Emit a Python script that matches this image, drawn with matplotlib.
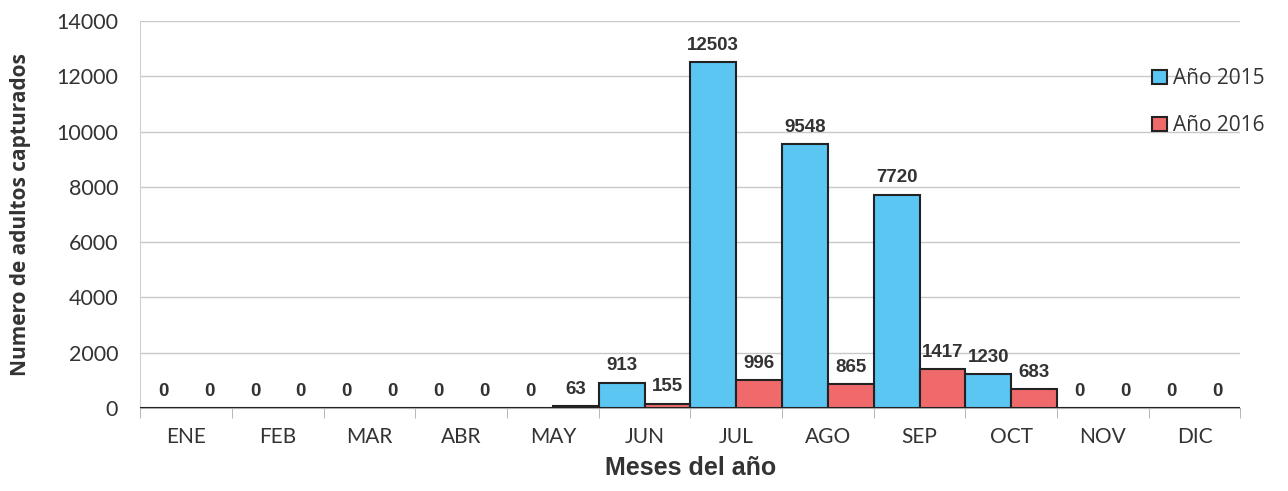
import numpy as np
import matplotlib.pyplot as plt

meses = ["ENE", "FEB", "MAR", "ABR", "MAY", "JUN", "JUL", "AGO", "SEP", "OCT", "NOV", "DIC"]
anio_2015 = [0, 0, 0, 0, 0, 913, 12503, 9548, 7720, 1230, 0, 0]
anio_2016 = [0, 0, 0, 0, 63, 155, 996, 865, 1417, 683, 0, 0]

azul = "#5bc6f2"
rojo = "#f06a6b"

fig = plt.figure(figsize=(12.88, 4.91), dpi=100)
ax = fig.add_axes([0.109, 0.169, 0.854, 0.788])

x = np.arange(len(meses))
w = 0.5
b1 = ax.bar(x - w / 2, anio_2015, w, color=azul, edgecolor="#222222", linewidth=1.5, label="Año 2015", zorder=3)
b2 = ax.bar(x + w / 2, anio_2016, w, color=rojo, edgecolor="#222222", linewidth=1.5, label="Año 2016", zorder=3)

# etiquetas de datos
lab_font = dict(fontsize=13.5, fontweight="bold", color="#333333",
                family=["Liberation Sans Narrow", "Liberation Sans", "DejaVu Sans"])
for bars in (b1, b2):
    for r in bars:
        h = r.get_height()
        ax.annotate(str(int(h)), (r.get_x() + r.get_width() / 2, h), xytext=(0, 6),
                    textcoords="offset points", ha="center", va="bottom", **lab_font)

ax.set_xlim(-0.5, len(meses) - 0.5)
ax.set_ylim(0, 14000)
ax.set_yticks(np.arange(0, 14001, 2000))
ax.set_xticks(x)
ax.set_xticklabels(meses, fontsize=15, family="Lato", color="#333333")
ax.set_xticks(np.arange(-0.5, len(meses), 1), minor=True)
ax.tick_params(axis="x", which="major", length=0, pad=14)
ax.tick_params(axis="x", which="minor", length=7, color="#aaaaaa")
ax.tick_params(axis="y", length=0, labelsize=15.5, pad=16, labelcolor="#333333")
for t in ax.get_yticklabels():
    t.set_family("Lato")

ax.grid(axis="y", color="#c8c8c8", linewidth=1, zorder=0)
for s in ["top", "right"]:
    ax.spines[s].set_visible(False)
ax.spines["left"].set_color("#d0d0d0")
ax.spines["bottom"].set_color("#aaaaaa")

ax.set_ylabel("Numero de adultos capturados", fontsize=15, fontweight="bold", family="Open Sans",
              color="#333333", labelpad=18)
ax.set_xlabel("Meses del año", fontsize=18, fontweight="bold", family="Liberation Sans",
              color="#333333", labelpad=6)

leg = ax.legend(loc="center left", bbox_to_anchor=(0.903, 0.79), frameon=False,
                handlelength=0.7, handleheight=0.7, handletextpad=0.3, labelspacing=1.25,
                prop={"family": "Open Sans", "size": 15})
for t in leg.get_texts():
    t.set_color("#333333")

fig.savefig("out.png", dpi=100)
